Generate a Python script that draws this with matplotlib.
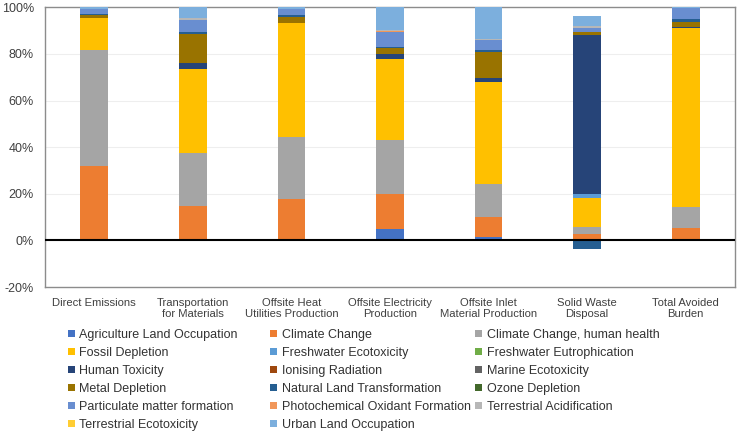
import matplotlib.pyplot as plt
import numpy as np
from matplotlib.patches import Patch

plt.rcParams['font.family'] = ['Liberation Sans', 'DejaVu Sans']

categories = ['Direct Emissions', 'Transportation\nfor Materials', 'Offsite Heat\nUtilities Production',
              'Offsite Electricity\nProduction', 'Offsite Inlet\nMaterial Production',
              'Solid Waste\nDisposal', 'Total Avoided\nBurden']

series = ['Agriculture Land Occupation', 'Climate Change', 'Climate Change, human health',
          'Fossil Depletion', 'Freshwater Ecotoxicity', 'Freshwater Eutrophication',
          'Human Toxicity', 'Ionising Radiation', 'Marine Ecotoxicity', 'Metal Depletion',
          'Natural Land Transformation', 'Ozone Depletion', 'Particulate matter formation',
          'Photochemical Oxidant Formation', 'Terrestrial Acidification',
          'Terrestrial Ecotoxicity', 'Urban Land Occupation']

colors = ['#4472C4', '#ED7D31', '#A5A5A5', '#FFC000', '#5B9BD5', '#70AD47',
          '#264478', '#9E480E', '#636363', '#997300', '#255E91', '#43682B',
          '#698ED0', '#F1975A', '#B7B7B7', '#FFCD33', '#7CAFDD']

# percent contribution of each impact category
agr  = [0, 0, 0, 4.7, 1.5, 0, 0]
cc   = [31.8, 14.7, 17.6, 15.0, 8.7, 2.6, 5.4]
cchh = [49.9, 22.9, 26.9, 23.3, 13.8, 3.1, 8.9]
fd   = [13.9, 35.8, 48.9, 34.7, 44.0, 12.3, 76.7]
fe   = [0, 0, 0, 0, 0, 2.0, 0]
feu  = [0, 0, 0, 0, 0, 0, 0]
ht   = [0, 2.6, 0, 2.4, 1.5, 68.0, 0.5]
ir   = [0, 0, 0, 0, 0, 0, 0]
me   = [0, 0, 0, 0, 0, 0, 0]
md   = [1.0, 12.4, 2.6, 2.3, 11.4, 1.4, 2.2]
nlt  = [0.5, 1.0, 0.6, 0.6, 0.6, -3.6, 1.4]
od   = [0, 0, 0, 0, 0, 0, 0]
pmf  = [2.0, 5.2, 2.8, 6.6, 4.3, 1.9, 4.4]
pof  = [0, 0, 0, 0.2, 0.2, 0, 0]
ta   = [0, 0.6, 0, 0.3, 0.2, 0.5, 0]
te   = [0, 0, 0, 0, 0, 0, 0]
ulo  = [0.9, 4.8, 0.6, 9.9, 13.8, 4.4, 0.5]

data = [agr, cc, cchh, fd, fe, feu, ht, ir, me, md, nlt, od, pmf, pof, ta, te, ulo]

W, H = 739, 433
fig = plt.figure(figsize=(W / 100, H / 100), dpi=100)
ax = fig.add_axes([45 / W, 1 - 287 / H, 690 / W, (287 - 7.3) / H])

x = np.arange(len(categories))
pos_bottom = np.zeros(len(categories))
neg_bottom = np.zeros(len(categories))
for vals, col in zip(data, colors):
    v = np.array(vals, dtype=float)
    bottom = np.where(v >= 0, pos_bottom, neg_bottom)
    ax.bar(x, v, 0.28, bottom=bottom, color=col, linewidth=0, zorder=3)
    pos_bottom += np.where(v > 0, v, 0)
    neg_bottom += np.where(v < 0, v, 0)

ax.set_xlim(-0.5, len(categories) - 0.5)
ax.set_ylim(-20, 100)
ax.set_yticks(np.arange(-20, 101, 20))
ax.set_yticklabels([f'{t}%' for t in range(-20, 101, 20)])
ax.set_xticks(x)
ax.set_xticklabels(categories, fontsize=8.1, linespacing=1.15)
ax.tick_params(axis='y', length=0, pad=8, labelsize=9, labelcolor='#404040')
ax.tick_params(axis='x', length=0, pad=8, labelcolor='#404040')
for t in [20, 40, 60, 80]:
    ax.axhline(t, color='#EEEEEE', linewidth=0.8, zorder=1)
ax.axhline(0, color='black', linewidth=1.5, zorder=4)
for s in ax.spines.values():
    s.set_color('#8C8C8C')
    s.set_linewidth(1.0)

# legend laid out row by row, in three fixed columns
handles = [Patch(facecolor=c, edgecolor='none') for c in colors]
col_x = [67.5, 270, 475]
for j in range(3):
    idx = list(range(j, len(series), 3))
    leg = fig.legend([handles[i] for i in idx], [series[i] for i in idx],
                     loc='upper left', bbox_to_anchor=(col_x[j] / W, 1 - 329 / H),
                     frameon=False, fontsize=9.0, handlelength=0.58, handleheight=0.58,
                     handletextpad=0.35, labelspacing=0.48, borderpad=0, borderaxespad=0,
                     labelcolor='#333333')

fig.savefig('out.png', dpi=100)
